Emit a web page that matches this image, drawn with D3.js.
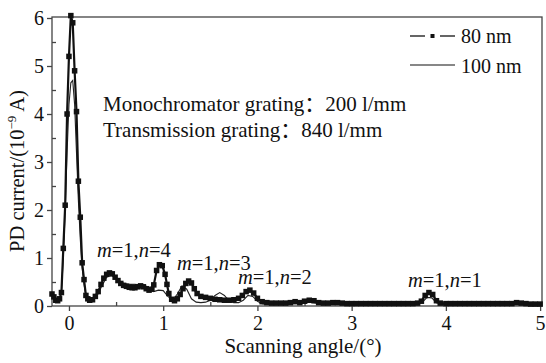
<!DOCTYPE html>
<html>
<head>
<meta charset="utf-8">
<script src="https://cdn.jsdelivr.net/npm/d3@7"></script>
<style>
  body { margin: 0; background: #fff; }
  text { font-family: "Liberation Serif", "Times New Roman", "Noto Sans CJK SC", serif; fill: #111; }
</style>
</head>
<body>
<div id="chart"></div>
<script>
// 80 nm curve: [scanning angle (deg), current (1e-9 A)]
const series80 = [
  [-0.18,0.25],[-0.16,0.19],[-0.14,0.12],[-0.12,0.11],[-0.10,0.15],[-0.08,0.28],[-0.06,1.2],[-0.04,2.1],
  [-0.02,4.0],[0.00,5.2],[0.02,6.05],[0.04,5.9],[0.06,4.9],[0.08,4.05],[0.10,2.6],[0.12,1.85],[0.14,0.9],
  [0.16,0.55],[0.18,0.22],[0.20,0.15],[0.22,0.12],[0.25,0.13],[0.28,0.2],[0.31,0.3],[0.34,0.45],[0.37,0.58],
  [0.40,0.66],[0.43,0.69],[0.46,0.67],[0.49,0.6],[0.52,0.53],[0.55,0.47],[0.58,0.43],[0.61,0.41],[0.64,0.39],
  [0.67,0.38],[0.70,0.38],[0.73,0.40],[0.76,0.42],[0.79,0.40],[0.82,0.36],[0.85,0.33],[0.88,0.35],[0.90,0.44],
  [0.93,0.74],[0.96,0.86],[0.99,0.84],[1.02,0.66],[1.04,0.45],[1.06,0.26],[1.09,0.14],[1.12,0.11],[1.15,0.15],
  [1.18,0.24],[1.21,0.36],[1.24,0.47],[1.27,0.52],[1.30,0.48],[1.33,0.36],[1.36,0.26],[1.40,0.2],[1.45,0.18],
  [1.50,0.16],[1.55,0.14],[1.60,0.13],[1.65,0.12],[1.70,0.12],[1.75,0.13],[1.80,0.16],[1.84,0.22],[1.88,0.3],
  [1.92,0.33],[1.96,0.27],[2.00,0.16],[2.05,0.09],[2.10,0.07],[2.15,0.06],[2.20,0.06],[2.25,0.06],[2.30,0.06],
  [2.35,0.07],[2.40,0.09],[2.45,0.07],[2.50,0.1],[2.55,0.12],[2.60,0.11],[2.65,0.07],[2.70,0.06],[2.75,0.06],
  [2.80,0.07],[2.85,0.07],[2.90,0.06],[2.95,0.05],[3.00,0.05],[3.05,0.05],[3.10,0.05],[3.15,0.05],[3.20,0.05],
  [3.25,0.05],[3.30,0.05],[3.35,0.05],[3.40,0.05],[3.45,0.05],[3.50,0.05],[3.55,0.05],[3.60,0.05],[3.65,0.05],
  [3.70,0.06],[3.74,0.1],[3.78,0.22],[3.82,0.28],[3.86,0.24],[3.90,0.11],[3.94,0.06],[4.00,0.05],[4.05,0.05],
  [4.10,0.05],[4.15,0.05],[4.20,0.05],[4.25,0.05],[4.30,0.05],[4.35,0.05],[4.40,0.05],[4.45,0.05],[4.50,0.05],
  [4.55,0.05],[4.60,0.05],[4.65,0.05],[4.70,0.05],[4.75,0.07],[4.80,0.06],[4.85,0.05],[4.90,0.04],[4.95,0.04],
  [5.00,0.04]
];

// 100 nm curve
const series100 = [
  [-0.18,0.2],[-0.14,0.12],[-0.10,0.15],[-0.08,0.3],[-0.06,1.0],[-0.04,2.0],[-0.02,3.2],[0.00,4.2],[0.02,4.65],
  [0.04,4.7],[0.06,4.2],[0.08,3.2],[0.10,2.2],[0.12,1.4],[0.14,0.8],[0.16,0.45],[0.18,0.22],[0.20,0.15],
  [0.25,0.12],[0.30,0.22],[0.35,0.42],[0.40,0.6],[0.45,0.64],[0.50,0.58],[0.55,0.5],[0.60,0.46],[0.65,0.45],
  [0.70,0.45],[0.75,0.44],[0.80,0.43],[0.85,0.38],[0.90,0.30],[0.95,0.33],[1.00,0.32],[1.05,0.2],[1.10,0.12],
  [1.15,0.25],[1.20,0.42],[1.25,0.35],[1.30,0.15],[1.35,0.08],[1.40,0.07],[1.45,0.08],[1.50,0.12],[1.55,0.22],
  [1.60,0.28],[1.65,0.22],[1.70,0.1],[1.75,0.07],[1.80,0.07],[1.85,0.12],[1.90,0.22],[1.95,0.2],[2.00,0.1],
  [2.05,0.05],[2.10,0.04],[2.20,0.04],[2.30,0.04],[2.35,0.05],[2.40,0.07],[2.45,0.05],[2.50,0.06],[2.55,0.08],
  [2.60,0.07],[2.65,0.05],[2.70,0.04],[3.00,0.04],[3.30,0.04],[3.70,0.04],[3.75,0.08],[3.80,0.18],[3.85,0.17],
  [3.90,0.07],[3.95,0.04],[4.00,0.03],[4.50,0.03],[4.70,0.03],[4.75,0.05],[4.80,0.03],[5.00,0.03]
];

const xMajor = [0, 1, 2, 3, 4, 5];
const xMinor = [0.5, 1.5, 2.5, 3.5, 4.5];
const yMajor = [0, 1, 2, 3, 4, 5, 6];
const yMinor = [0.5, 1.5, 2.5, 3.5, 4.5, 5.5];

const peakLabels = [
  { n: 4, x: 97, y: 257 },
  { n: 3, x: 177, y: 270 },
  { n: 2, x: 238, y: 284 },
  { n: 1, x: 408, y: 287 }
];

const width = 546, height = 363;
const plotLeft = 52, plotRight = 542, plotTop = 17, plotBottom = 306;

const svg = d3.select('#chart').append('svg')
  .attr('width', width)
  .attr('height', height);

const x = d3.scaleLinear().domain([-0.18, 5.02]).range([plotLeft, plotRight]);
const y = d3.scaleLinear().domain([0, 6]).range([plotBottom, plotTop + 1]);

// frame
svg.append('rect')
  .attr('x', plotLeft).attr('y', plotTop)
  .attr('width', plotRight - plotLeft).attr('height', plotBottom - plotTop)
  .attr('fill', 'none').attr('stroke', '#444').attr('stroke-width', 1.3);

// axes: major ticks outside, minor ticks inside
function styleAxis(g) {
  g.select('.domain').remove();
  g.selectAll('line').attr('stroke', '#444').attr('stroke-width', 1.3);
  g.selectAll('text').attr('font-size', 20).attr('fill', '#111')
    .style('font-family', '"Liberation Serif", "Times New Roman", serif');
}

svg.append('g').attr('transform', 'translate(0,' + plotBottom + ')')
  .call(d3.axisBottom(x).tickValues(xMajor).tickSize(5).tickPadding(5).tickFormat(d3.format('d')))
  .call(styleAxis);
svg.append('g').attr('transform', 'translate(0,' + plotBottom + ')')
  .call(d3.axisBottom(x).tickValues(xMinor).tickSize(-4).tickFormat(''))
  .call(styleAxis);
svg.append('g').attr('transform', 'translate(' + plotLeft + ',0)')
  .call(d3.axisLeft(y).tickValues(yMajor).tickSize(5).tickPadding(3).tickFormat(d3.format('d')))
  .call(styleAxis);
svg.append('g').attr('transform', 'translate(' + plotLeft + ',0)')
  .call(d3.axisLeft(y).tickValues(yMinor).tickSize(-4).tickFormat(''))
  .call(styleAxis);

// curves
const line = d3.line()
  .x(d => x(d[0]))
  .y(d => y(d[1]));

svg.append('path')
  .datum(series100)
  .attr('d', line)
  .attr('fill', 'none')
  .attr('stroke', '#222')
  .attr('stroke-width', 1.1);

svg.append('path')
  .datum(series80)
  .attr('d', line)
  .attr('fill', 'none')
  .attr('stroke', '#111')
  .attr('stroke-width', 2.2);

const sq = 5.5;
svg.append('g').selectAll('rect')
  .data(series80)
  .enter().append('rect')
  .attr('x', d => x(d[0]) - sq / 2)
  .attr('y', d => y(d[1]) - sq / 2)
  .attr('width', sq)
  .attr('height', sq)
  .attr('fill', '#111');

// legend
const lg = svg.append('g');
lg.append('line').attr('x1', 410).attr('x2', 425).attr('y1', 36).attr('y2', 36)
  .attr('stroke', '#111').attr('stroke-width', 1.3);
lg.append('rect').attr('x', 430.5).attr('y', 34).attr('width', 4).attr('height', 4).attr('fill', '#111');
lg.append('line').attr('x1', 440).attr('x2', 455).attr('y1', 36).attr('y2', 36)
  .attr('stroke', '#111').attr('stroke-width', 1.3);
lg.append('text').attr('x', 461).attr('y', 43).attr('font-size', 20).text('80 nm');
lg.append('line').attr('x1', 410).attr('x2', 455).attr('y1', 65).attr('y2', 65)
  .attr('stroke', '#111').attr('stroke-width', 1.1);
lg.append('text').attr('x', 461).attr('y', 73).attr('font-size', 20).text('100 nm');

// grating note
svg.append('text').attr('x', 103).attr('y', 111).attr('font-size', 21)
  .text('Monochromator grating：200 l/mm');
svg.append('text').attr('x', 103).attr('y', 137).attr('font-size', 21)
  .text('Transmission grating：840 l/mm');

// peak labels
peakLabels.forEach(function (p) {
  const t = svg.append('text').attr('x', p.x).attr('y', p.y).attr('font-size', 20.5);
  t.append('tspan').attr('font-style', 'italic').text('m');
  t.append('tspan').text('=1,');
  t.append('tspan').attr('font-style', 'italic').text('n');
  t.append('tspan').text('=' + p.n);
});

// axis titles
svg.append('text')
  .attr('x', 303).attr('y', 353)
  .attr('text-anchor', 'middle')
  .attr('font-size', 21)
  .text('Scanning angle/(°)');

const yl = svg.append('text')
  .attr('transform', 'translate(24,171) rotate(-90)')
  .attr('text-anchor', 'middle')
  .attr('font-size', 20.5);
yl.append('tspan').text('PD current/(10');
yl.append('tspan').attr('font-size', 13).attr('dy', -8).text('−9');
yl.append('tspan').attr('dy', 8).text(' A)');
</script>
</body>
</html>
